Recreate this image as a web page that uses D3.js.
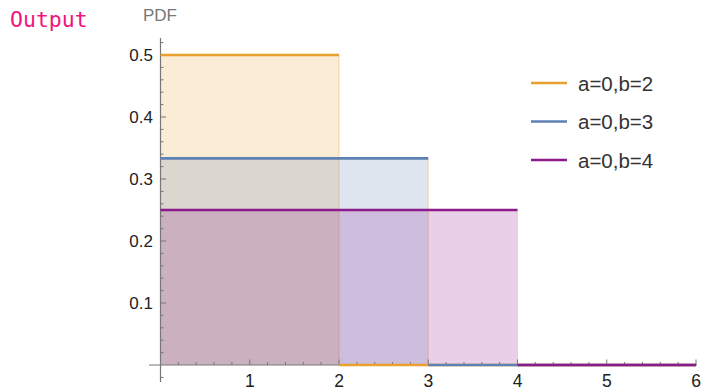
<!DOCTYPE html>
<html>
<head>
<meta charset="utf-8">
<script src="https://cdn.jsdelivr.net/npm/d3@7"></script>
<style>
  html, body { margin: 0; padding: 0; background: #fff; }
  svg { display: block; }
</style>
</head>
<body>
<svg id="chart" width="702" height="389"></svg>
<script>
// ---- data ----
const seriesNames = ["a=0,b=2", "a=0,b=3", "a=0,b=4"];
const seriesA = [0, 0, 0];
const seriesB = [2, 3, 4];
const seriesDensity = [0.5, 1/3, 0.25];
const seriesColors = ["#E8A12E", "#5E81B5", "#8B1A8B"];
const xTicks = [1, 2, 3, 4, 5, 6];
const yTicks = [0.1, 0.2, 0.3, 0.4, 0.5];
const xMax = 6;

const svg = d3.select("#chart");
const x = d3.scaleLinear().domain([0, 6]).range([160.5, 696]);
const y = d3.scaleLinear().domain([0, 0.5]).range([365, 55]);

// "Output" label
svg.append("text").attr("x", 10).attr("y", 27)
  .attr("font-family", "'DejaVu Sans Mono', 'Liberation Mono', monospace")
  .attr("font-size", 21.5).attr("fill", "#F0147C").text("Output");

// fills
const gFill = svg.append("g");
seriesB.forEach((b, i) => {
  const a = seriesA[i];
  gFill.append("rect")
    .attr("x", x(a)).attr("y", y(seriesDensity[i]))
    .attr("width", x(b) - x(a)).attr("height", y(0) - y(seriesDensity[i]))
    .attr("fill", seriesColors[i]).attr("fill-opacity", 0.2);
  gFill.append("line")
    .attr("x1", x(b)).attr("x2", x(b))
    .attr("y1", y(seriesDensity[i])).attr("y2", y(0))
    .attr("stroke", "#E8A12E").attr("stroke-opacity", 0.3).attr("stroke-width", 1.2);
});

// axes
const axisColor = "#777";
const gAx = svg.append("g");
gAx.append("line").attr("x1", 149).attr("x2", 697).attr("y1", y(0)).attr("y2", y(0))
  .attr("stroke", axisColor).attr("stroke-width", 1.2);
gAx.append("line").attr("x1", x(0)).attr("x2", x(0)).attr("y1", 38).attr("y2", 382)
  .attr("stroke", axisColor).attr("stroke-width", 1.2);

const xMinor = d3.range(1, 31).map(k => k * 0.2).filter(v => Math.abs(v - Math.round(v)) > 1e-6);
gAx.selectAll(".xminor").data(xMinor).join("line")
  .attr("x1", d => x(d)).attr("x2", d => x(d))
  .attr("y1", y(0)).attr("y2", y(0) - 3)
  .attr("stroke", axisColor).attr("stroke-width", 1);
gAx.selectAll(".xmajor").data(xTicks).join("line")
  .attr("x1", d => x(d)).attr("x2", d => x(d))
  .attr("y1", y(0)).attr("y2", y(0) - 5.5)
  .attr("stroke", axisColor).attr("stroke-width", 1);
gAx.selectAll(".xlab").data(xTicks).join("text")
  .attr("x", d => x(d)).attr("y", 386.5)
  .attr("text-anchor", "middle")
  .attr("font-family", "'Liberation Sans', Arial, sans-serif")
  .attr("font-size", 17.5).attr("fill", "#222")
  .text(d => d);

const yMinor = d3.range(-1, 27).map(k => k * 0.02).filter(v => Math.abs(v * 10 - Math.round(v * 10)) > 1e-6);
gAx.selectAll(".yminor").data(yMinor).join("line")
  .attr("x1", x(0)).attr("x2", x(0) + 3)
  .attr("y1", d => y(d)).attr("y2", d => y(d))
  .attr("stroke", axisColor).attr("stroke-width", 1);
gAx.selectAll(".ymajor").data(yTicks).join("line")
  .attr("x1", x(0)).attr("x2", x(0) + 5.5)
  .attr("y1", d => y(d)).attr("y2", d => y(d))
  .attr("stroke", axisColor).attr("stroke-width", 1);
gAx.selectAll(".ylab").data(yTicks).join("text")
  .attr("x", 153).attr("y", d => y(d) + 6)
  .attr("text-anchor", "end")
  .attr("font-family", "'Liberation Sans', Arial, sans-serif")
  .attr("font-size", 17).attr("fill", "#222")
  .text(d => d3.format(".1f")(d));

svg.append("text").attr("x", 160).attr("y", 21)
  .attr("text-anchor", "middle")
  .attr("font-family", "'Liberation Sans', Arial, sans-serif")
  .attr("font-size", 17).attr("fill", "#777").text("PDF");

// lines
const line = d3.line().x(d => x(d[0])).y(d => y(d[1]));
seriesB.forEach((b, i) => {
  const a = seriesA[i];
  svg.append("path")
    .attr("d", line([[a, seriesDensity[i]], [b, seriesDensity[i]]]))
    .attr("stroke", seriesColors[i]).attr("stroke-width", 2.6).attr("fill", "none");
  svg.append("path")
    .attr("d", line([[b, 0], [xMax, 0]]))
    .attr("stroke", seriesColors[i]).attr("stroke-width", 2.6).attr("fill", "none");
});

// legend
const lg = svg.append("g");
seriesNames.forEach((n, i) => {
  const ly = 83 + i * 38.5;
  lg.append("line").attr("x1", 531).attr("x2", 567).attr("y1", ly).attr("y2", ly)
    .attr("stroke", seriesColors[i]).attr("stroke-width", 2.6);
  lg.append("text").attr("x", 578).attr("y", ly + 7.5)
    .attr("font-family", "'Liberation Sans', Arial, sans-serif")
    .attr("font-size", 20.5).attr("fill", "#333").text(n);
});
</script>
</body>
</html>
